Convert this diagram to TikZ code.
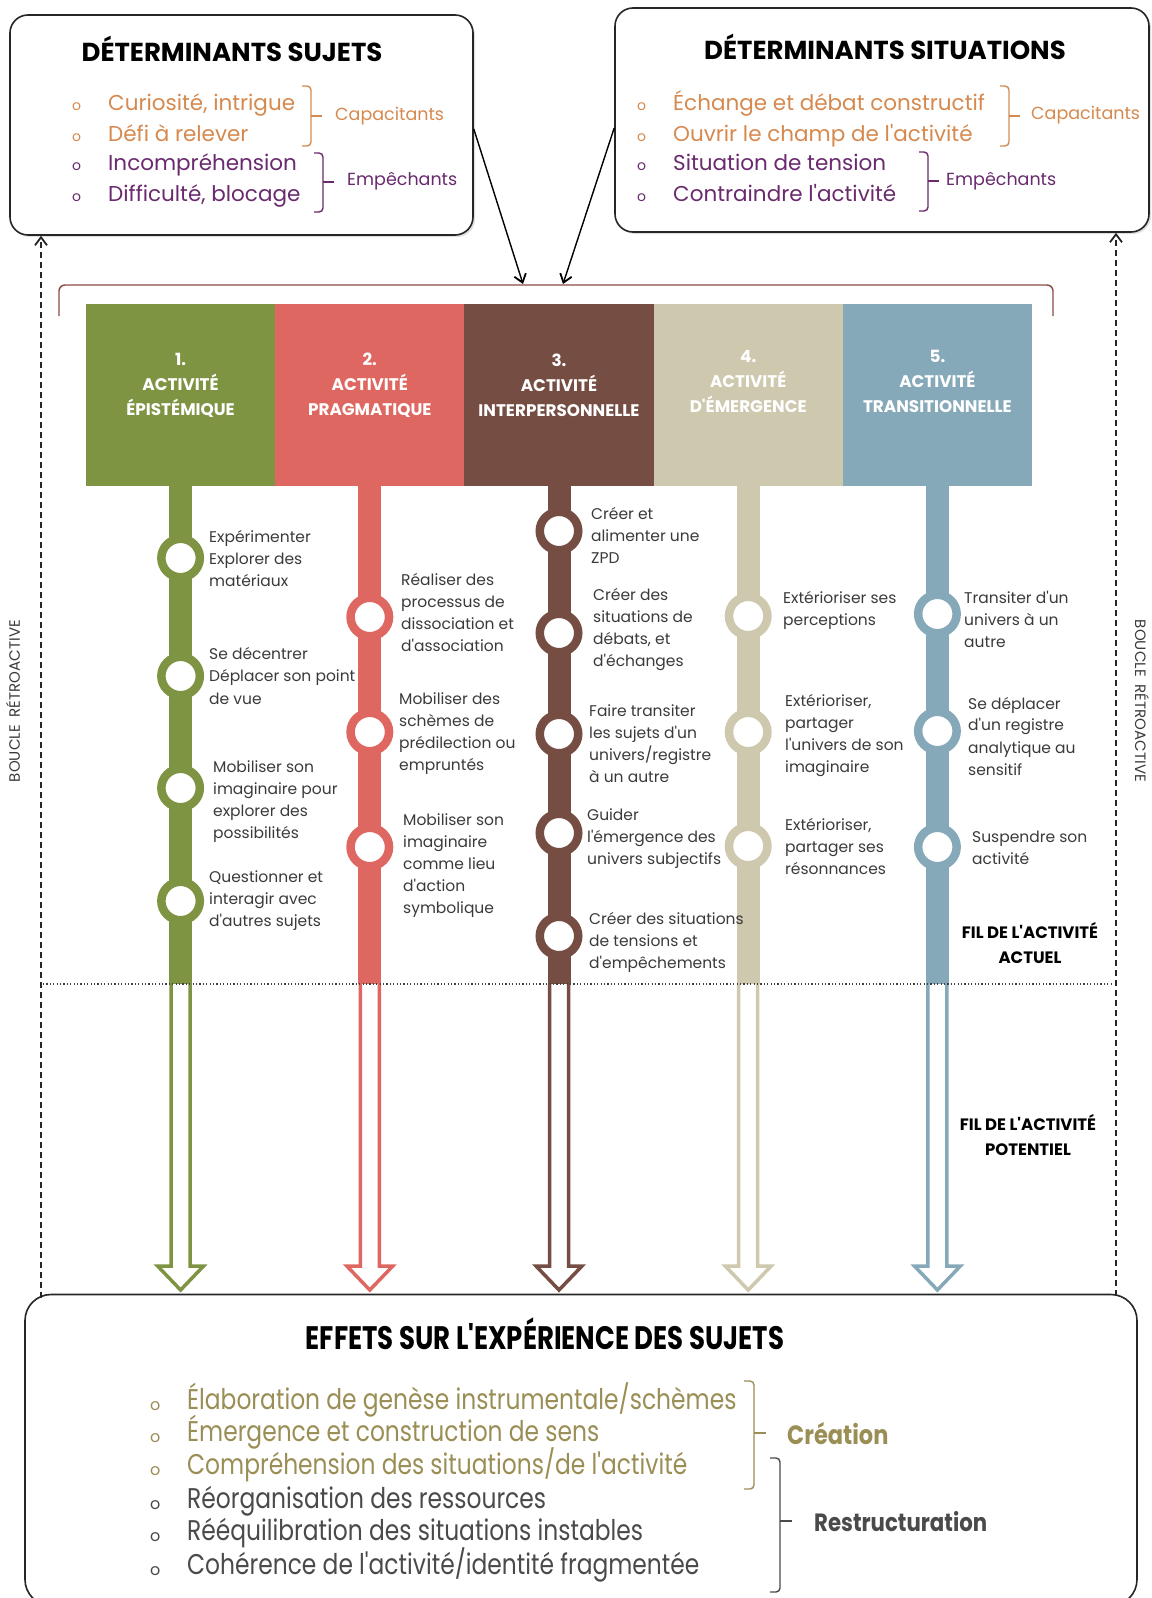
\documentclass[tikz,border=0pt]{standalone}
\usepackage{fontspec}
\setmainfont{Poppins}[Ligatures=TeXOff]
\newfontfamily\condfont[FakeStretch=0.85]{Poppins}
\newfontfamily\bodyfont[FakeStretch=0.82]{Poppins}
\newfontfamily\condtitle[FakeStretch=0.8]{Poppins}
\usetikzlibrary{arrows.meta,shadows}
\definecolor{cgreen}{HTML}{7F9443}
\definecolor{cred}{HTML}{DF6761}
\definecolor{cbrown}{HTML}{754D43}
\definecolor{cbeige}{HTML}{CDC8AE}
\definecolor{cblue}{HTML}{86A9BA}
\definecolor{corange}{HTML}{D6894E}
\definecolor{cpurple}{HTML}{6A2A6E}
\definecolor{ckhaki}{HTML}{9A8E55}
\definecolor{cgray}{HTML}{4A4A4A}
\definecolor{lblgray}{HTML}{3A3A3A}
\definecolor{cbracket}{HTML}{8A4B45}
\begin{document}
\begin{tikzpicture}[x=1pt,y=-1pt,
  topbox/.style={draw=black!85, line width=1.6, rounded corners=18, fill=white, inner sep=0,
    drop shadow={shadow xshift=2pt, shadow yshift=-2pt, opacity=0.25}},
  actbox/.style={minimum width=189.2, minimum height=182, inner sep=0, draw=none},
  acttext/.style={text=white, font=\fontsize{16.8}{25}\selectfont\bfseries, align=center, inner sep=0},
  ring/.style={circle, draw=#1, line width=8.5, fill=white, minimum size=38.5, inner sep=0},
  lbl/.style={anchor=west, align=left, inner sep=0, text=lblgray, font=\fontsize{15.5}{22}\selectfont},
  thread/.style={line width=23, draw=#1},
  hollow/.style={draw=#1, fill=white, line width=3.5, line join=miter},
  toptitle/.style={font=\fontsize{26}{26}\selectfont\bfseries, inner sep=0},
  item/.style={anchor=west, inner sep=0, font=\fontsize{21.5}{21.5}\selectfont, text height=15, text depth=5},
  dot/.style={anchor=west, inner sep=0, font=\fontsize{14}{14}\selectfont, text height=7.5, text depth=0},
  bracelbl/.style={anchor=west, inner sep=0, font=\fontsize{17.5}{17.5}\selectfont, text height=13, text depth=4},
  fil/.style={font=\fontsize{16.5}{25}\selectfont\bfseries, align=center, inner sep=0},
  boucle/.style={font=\fontsize{15}{15}\selectfont, text=lblgray, inner sep=0},
  bitem/.style={anchor=west, inner sep=0, font=\bodyfont\fontsize{28.5}{28.5}\selectfont, text height=20, text depth=7},
  bdot/.style={anchor=west, inner sep=0, font=\fontsize{16}{16}\selectfont, text height=8.5, text depth=0},
  brc/.style={line width=1.4, rounded corners=4},
  fb/.style={-{Straight Barb[length=8, width=12, line width=1.8]}, line width=1.4}
]
\useasboundingbox (0,0) rectangle (1151,1598);

% ---------- top boxes ----------
\node[topbox, minimum width=463, minimum height=220] (ds) at (241.5,125) {};
\node[topbox, minimum width=534, minimum height=224] (dsit) at (882,120) {};

\node[toptitle] (dsT) at (232,49) {DÉTERMINANTS SUJETS};
\node[toptitle] (dsitT) at (885,47) {DÉTERMINANTS SITUATIONS};

% left box items
\node[dot, text=corange] (lb1) at (72,107) {o};
\node[dot, text=corange] (lb2) at (72,138) {o};
\node[dot, text=cpurple] (lb3) at (72,167) {o};
\node[dot, text=cpurple] (lb4) at (72,198) {o};
\node[item, text=corange] (li1) at (108,105.5) {Curiosité, intrigue};
\node[item, text=corange] (li2) at (108,136.5) {Défi à relever};
\node[item, text=cpurple] (li3) at (108,165.5) {Incompréhension};
\node[item, text=cpurple] (li4) at (108,196.5) {Difficulté, blocage};
\draw[brc, corange] (302,86) -- (311,86) -- (311,146) -- (302,146);
\draw[line width=1.4, corange] (311,116) -- (322,116);
\node[bracelbl, text=corange] (lcap) at (335,116) {Capacitants};
\draw[brc, cpurple] (314,153) -- (323,153) -- (323,212) -- (314,212);
\draw[line width=1.4, cpurple] (323,182) -- (334,182);
\node[bracelbl, text=cpurple] (lemp) at (347,181) {Empêchants};

% right box items
\node[dot, text=corange] (rb1) at (637,107) {o};
\node[dot, text=corange] (rb2) at (637,138) {o};
\node[dot, text=cpurple] (rb3) at (637,167) {o};
\node[dot, text=cpurple] (rb4) at (637,198) {o};
\node[item, text=corange] (ri1) at (673,105.5) {Échange et débat constructif};
\node[item, text=corange] (ri2) at (673,136.5) {Ouvrir le champ de l'activité};
\node[item, text=cpurple] (ri3) at (673,165.5) {Situation de tension};
\node[item, text=cpurple] (ri4) at (673,196.5) {Contraindre l'activité};
\draw[brc, corange] (1000,86) -- (1009,86) -- (1009,146) -- (1000,146);
\draw[line width=1.4, corange] (1009,116) -- (1020,116);
\node[bracelbl, text=corange] (rcap) at (1031,115) {Capacitants};
\draw[brc, cpurple] (919,152) -- (928,152) -- (928,211) -- (919,211);
\draw[line width=1.4, cpurple] (928,181) -- (939,181);
\node[bracelbl, text=cpurple] (remp) at (946,181) {Empêchants};

% ---------- bracket and arrows ----------
\draw[cbracket, line width=1.4, rounded corners=6] (59,316) -- (59,285) -- (1053,285) -- (1053,316);
\coordinate (tipL) at (523,284);
\coordinate (tipR) at (563,284);
\draw[fb] ([yshift=-4]ds.east) -- (tipL);
\draw[fb] ([yshift=-8]dsit.west) -- (tipR);

% ---------- activity boxes ----------
\node[actbox, fill=cgreen] (a1) at (180.6,395) {};
\node[actbox, fill=cred] (a2) at (369.8,395) {};
\node[actbox, fill=cbrown] (a3) at (559.0,395) {};
\node[actbox, fill=cbeige] (a4) at (748.2,395) {};
\node[actbox, fill=cblue] (a5) at (937.4,395) {};
\node[acttext] (t1) at (180.6,385) {1.\\ACTIVITÉ\\ÉPISTÉMIQUE};
\node[acttext] (t2) at (369.8,385) {2.\\ACTIVITÉ\\PRAGMATIQUE};
\node[acttext] (t3) at (559.0,385) {3.\\ACTIVITÉ\\INTERPERSONNELLE};
\node[acttext] (t4) at (748.2,381) {4.\\ACTIVITÉ\\D'ÉMERGENCE};
\node[acttext] (t5) at (937.4,381) {5.\\ACTIVITÉ\\TRANSITIONNELLE};

% dotted line coordinates
\coordinate (d1) at (180.6,984);
\coordinate (d2) at (369.8,984);
\coordinate (d3) at (559.0,984);
\coordinate (d4) at (748.2,984);
\coordinate (d5) at (937.4,984);

% hollow arrows
\foreach \cx/\col in {180.6/cgreen, 369.8/cred, 559.0/cbrown, 748.2/cbeige, 937.4/cblue}{
  \path[hollow=\col] (\cx-9.5,984) -- (\cx-9.5,1266) -- (\cx-23,1266) -- (\cx,1290) -- (\cx+23,1266) -- (\cx+9.5,1266) -- (\cx+9.5,984);
}

% threads
\draw[thread=cgreen] (a1.south) -- (d1);
\draw[thread=cred] (a2.south) -- (d2);
\draw[thread=cbrown] (a3.south) -- (d3);
\draw[thread=cbeige] (a4.south) -- (d4);
\draw[thread=cblue] (a5.south) -- (d5);

% dotted line
\coordinate (dotL) at (43,984);
\coordinate (dotR) at (1111,984);
\draw[line width=1.2, dash pattern=on 1.2 off 2.2, black!75] (dotL) -- (dotR);

% rings
\node[ring=cgreen] (c11) at (180.6,558) {};
\node[ring=cgreen] (c12) at (180.6,676) {};
\node[ring=cgreen] (c13) at (180.6,788) {};
\node[ring=cgreen] (c14) at (180.6,901) {};
\node[ring=cred] (c21) at (369.8,617) {};
\node[ring=cred] (c22) at (369.8,732) {};
\node[ring=cred] (c23) at (369.8,847) {};
\node[ring=cbrown] (c31) at (559.0,531) {};
\node[ring=cbrown] (c32) at (559.0,633) {};
\node[ring=cbrown] (c33) at (559.0,734) {};
\node[ring=cbrown] (c34) at (559.0,833) {};
\node[ring=cbrown] (c35) at (559.0,936) {};
\node[ring=cbeige] (c41) at (748.2,616) {};
\node[ring=cbeige] (c42) at (748.2,732) {};
\node[ring=cbeige] (c43) at (748.2,846) {};
\node[ring=cblue] (c51) at (937.4,614) {};
\node[ring=cblue] (c52) at (937.4,731) {};
\node[ring=cblue] (c53) at (937.4,847) {};

% labels
\node[lbl] (l11) at (209,559) {Expérimenter\\Explorer des\\matériaux};
\node[lbl] (l12) at (209,676) {Se décentrer\\Déplacer son point\\de vue};
\node[lbl] (l13) at (213,802) {Mobiliser son\\imaginaire pour\\explorer des\\possibilités};
\node[lbl] (l14) at (209,901) {Questionner et\\interagir avec\\d'autres sujets};
\node[lbl] (l21) at (401,613) {Réaliser des\\processus de\\dissociation et\\d'association};
\node[lbl] (l22) at (399,734) {Mobiliser des\\schèmes de\\prédilection ou\\empruntés};
\node[lbl] (l23) at (403,866) {Mobiliser son\\imaginaire\\comme lieu\\d'action\\symbolique};
\node[lbl] (l31) at (591,535) {Créer et\\alimenter une\\ZPD};
\node[lbl] (l32) at (593,630) {Créer des\\situations de\\débats, et\\d'échanges};
\node[lbl] (l33) at (589,744) {Faire transiter\\les sujets d'un\\univers/registre\\à un autre};
\node[lbl] (l34) at (587,839) {Guider\\l'émergence des\\univers subjectifs};
\node[lbl] (l35) at (589,942) {Créer des situations\\de tensions et\\d'empêchements};
\node[lbl] (l41) at (783,610) {Extérioriser ses\\perceptions};
\node[lbl] (l42) at (785,736) {Extérioriser,\\partager\\l'univers de son\\imaginaire};
\node[lbl] (l43) at (785,846) {Extérioriser,\\partager ses\\résonnances};
\node[lbl] (l51) at (964,619) {Transiter d'un\\univers à un\\autre};
\node[lbl] (l52) at (968,736) {Se déplacer\\d'un registre\\analytique au\\sensitif};
\node[lbl] (l53) at (972,848) {Suspendre son\\activité};

\node[fil] (fa) at (1030,943) {FIL DE L'ACTIVITÉ\\ACTUEL};
\node[fil] (fp) at (1028,1135) {FIL DE L'ACTIVITÉ\\POTENTIEL};

% ---------- bottom box ----------
\node[draw=black!85, line width=1.6, rounded corners=26, fill=white, minimum width=1112, minimum height=311, inner sep=0] (eff) at (581,1450) {};
\node[font=\condtitle\fontsize{32.5}{32.5}\selectfont\bfseries, inner sep=0] (effT) at (545,1334) {EFFETS SUR L'EXPÉRIENCE DES SUJETS};

\node[bdot, text=ckhaki] (bb1) at (150,1406) {o};
\node[bdot, text=ckhaki] (bb2) at (150,1438) {o};
\node[bdot, text=ckhaki] (bb3) at (150,1471) {o};
\node[bdot, text=cgray] (bb4) at (150,1505) {o};
\node[bdot, text=cgray] (bb5) at (150,1537) {o};
\node[bdot, text=cgray] (bb6) at (150,1571) {o};
\node[bitem, text=ckhaki] (bi1) at (187,1403) {Élaboration de genèse instrumentale/schèmes};
\node[bitem, text=ckhaki] (bi2) at (187,1435) {Émergence et construction de sens};
\node[bitem, text=ckhaki] (bi3) at (187,1468) {Compréhension des situations/de l'activité};
\node[bitem, text=cgray] (bi4) at (187,1502) {Réorganisation des ressources};
\node[bitem, text=cgray] (bi5) at (187,1534) {Rééquilibration des situations instables};
\node[bitem, text=cgray] (bi6) at (187,1568) {Cohérence de l'activité/identité fragmentée};

\draw[brc, ckhaki] (744,1381) -- (754,1381) -- (754,1489) -- (744,1489);
\draw[line width=1.4, ckhaki] (754,1433) -- (766,1433);
\node[anchor=west, inner sep=0, text=ckhaki, font=\condfont\fontsize{26.5}{26.5}\selectfont\bfseries] (cre) at (787,1434) {Création};
\draw[brc, cgray] (770,1458) -- (780,1458) -- (780,1592) -- (770,1592);
\draw[line width=1.4, cgray] (780,1521) -- (792,1521);
\node[anchor=west, inner sep=0, text=cgray, font=\condfont\fontsize{25}{25}\selectfont\bfseries] (res) at (814,1522) {Restructuration};

% ---------- feedback loops ----------
\coordinate (fl) at (41,1298);
\coordinate (fr) at (1116,1296);
\draw[fb, dash pattern=on 6 off 4, black!85] (fl) -- (fl |- ds.south);
\draw[fb, dash pattern=on 6 off 4, black!85] (fr) -- (fr |- dsit.south);
\node[boucle, rotate=90] (bl) at (13,701) {BOUCLE\ \ RÉTROACTIVE};
\node[boucle, rotate=-90] (br) at (1142,701) {BOUCLE\ \ RÉTROACTIVE};
\end{tikzpicture}
\end{document}
